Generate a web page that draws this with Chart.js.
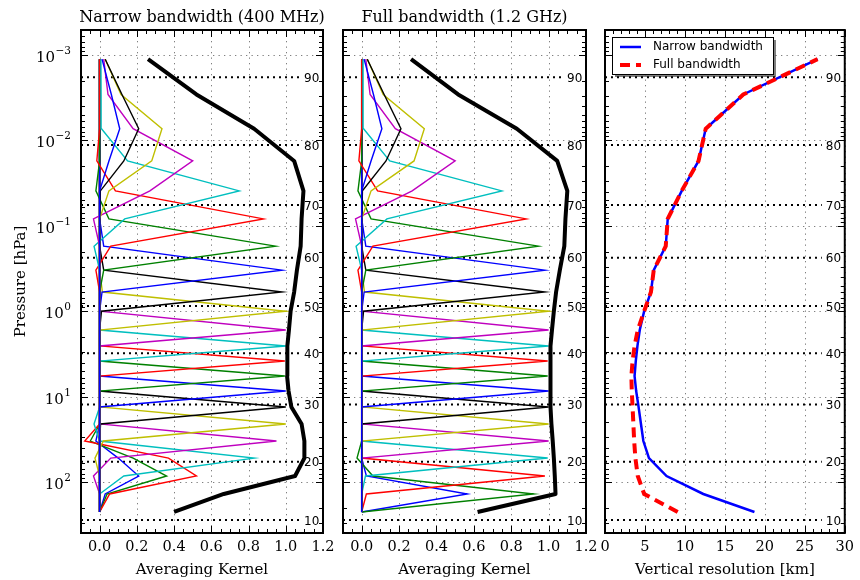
<!DOCTYPE html>
<html>
<head>
<meta charset="utf-8">
<script src="https://cdn.jsdelivr.net/npm/chart.js@4.4.1/dist/chart.umd.min.js"></script>
<style>
  body { margin: 0; background: #fff; }
  #wrap { position: relative; width: 860px; height: 580px; }
  #wrap canvas { position: absolute; left: 0; top: 0; }
</style>
</head>
<body>
<div id="wrap">
  <canvas id="narrow" width="860" height="580"></canvas>
  <canvas id="full" width="860" height="580"></canvas>
  <canvas id="res" width="860" height="580"></canvas>
</div>
<script>
// retrieval levels, bottom -> top [hPa]
const pressure = [224, 138, 85, 52.4, 33.1, 20.9, 13.2, 8.6, 5.74, 3.83, 2.55, 1.66,
                  1.0, 0.596, 0.33, 0.173, 0.083, 0.039, 0.0174, 0.0073, 0.0029, 0.00112];

// averaging kernels of the 7 lowest levels, narrow band (one row per kernel, values per level)
const akNarrowLow = [
  [0, 0.03, 0.21, 0.10, -0.02, 0, 0, 0, 0, 0, 0, 0, 0, 0, 0, 0, 0, 0, 0, 0, 0, 0],
  [0, 0.04, 0.36, 0.18, -0.05, 0, 0, 0, 0, 0, 0, 0, 0, 0, 0, 0, 0, 0, 0, 0, 0, 0],
  [0, 0.054, 0.52, 0.37, -0.08, 0, 0, 0, 0, 0, 0, 0, 0, 0, 0, 0, 0, 0, 0, 0, 0, 0],
  [0, 0, 0.13, 0.83, 0, -0.03, 0, 0, 0, 0, 0, 0, 0, 0, 0, 0, 0, 0, 0, 0, 0, 0],
  [0, 0, -0.033, 0.06, 0.95, 0, 0, 0, 0, 0, 0, 0, 0, 0, 0, 0, 0, 0, 0, 0, 0, 0],
  [0, 0, 0, -0.025, 0.02, 1.0, 0, 0, 0, 0, 0, 0, 0, 0, 0, 0, 0, 0, 0, 0, 0, 0],
  [0, 0, 0, 0, 0, 0.005, 1.0, 0, 0, 0, 0, 0, 0, 0, 0, 0, 0, 0, 0, 0, 0, 0]
];
// same for full band
const akFullLow = [
  [0, 0.565, 0.025, 0, 0, 0, 0, 0, 0, 0, 0, 0, 0, 0, 0, 0, 0, 0, 0, 0, 0, 0],
  [0, 0.92, 0.06, -0.025, 0, 0, 0, 0, 0, 0, 0, 0, 0, 0, 0, 0, 0, 0, 0, 0, 0, 0],
  [0, 0.025, 0.98, 0, 0, 0, 0, 0, 0, 0, 0, 0, 0, 0, 0, 0, 0, 0, 0, 0, 0, 0],
  [0, 0, 0.02, 0.995, 0, 0, 0, 0, 0, 0, 0, 0, 0, 0, 0, 0, 0, 0, 0, 0, 0, 0],
  [0, 0, 0, 0, 1.0, 0, 0, 0, 0, 0, 0, 0, 0, 0, 0, 0, 0, 0, 0, 0, 0, 0],
  [0, 0, 0, 0, 0, 1.0, 0, 0, 0, 0, 0, 0, 0, 0, 0, 0, 0, 0, 0, 0, 0, 0],
  [0, 0, 0, 0, 0, 0, 1.0, 0, 0, 0, 0, 0, 0, 0, 0, 0, 0, 0, 0, 0, 0, 0]
];
// kernels 7..21, the same in both bands
const akUpper = [
  [0, 0, 0, 0, 0, 0, 0, 1.0, 0, 0, 0, 0, 0, 0, 0, 0, 0, 0, 0, 0, 0, 0],
  [0, 0, 0, 0, 0, 0, 0, 0, 0.995, 0, 0, 0, 0, 0, 0, 0, 0, 0, 0, 0, 0, 0],
  [0, 0, 0, 0, 0, 0, 0, 0, 0, 0.995, 0, 0, 0, 0, 0, 0, 0, 0, 0, 0, 0, 0],
  [0, 0, 0, 0, 0, 0, 0, 0, 0, 0, 1.0, 0, 0, 0, 0, 0, 0, 0, 0, 0, 0, 0],
  [0, 0, 0, 0, 0, 0, 0, 0, 0, 0, 0, 1.0, 0, 0, 0, 0, 0, 0, 0, 0, 0, 0],
  [0, 0, 0, 0, 0, 0, 0, 0, 0, 0, 0, 0, 1.0, 0.015, 0, 0, 0, 0, 0, 0, 0, 0],
  [0, 0, 0, 0, 0, 0, 0, 0, 0, 0, 0, 0, 0.01, 0.98, 0.022, 0, 0, 0, 0, 0, 0, 0],
  [0, 0, 0, 0, 0, 0, 0, 0, 0, 0, 0, 0, 0, 0.013, 0.98, 0.022, 0, 0, 0, 0, 0, 0],
  [0, 0, 0, 0, 0, 0, 0, 0, 0, 0, 0, 0, 0, 0, 0.022, 0.945, 0.05, -0.02, 0, 0, 0, 0],
  [0, 0, 0, 0, 0, 0, 0, 0, 0, 0, 0, 0, 0, 0, -0.02, 0.06, 0.88, 0.085, -0.015, 0, 0, 0],
  [0, 0, 0, 0, 0, 0, 0, 0, 0, 0, 0, 0, 0, 0, 0, -0.03, 0.135, 0.75, 0.15, 0.01, 0.008, 0.007],
  [0, 0, 0, 0, 0, 0, 0, 0, 0, 0, 0, 0, 0, 0, 0, 0, -0.033, 0.27, 0.50, 0.18, 0.045, 0.022],
  [0, 0, 0, 0, 0, 0, 0, 0, 0, 0, 0, 0, 0, 0, 0, 0, 0, 0.05, 0.28, 0.335, 0.115, 0.03],
  [0, 0, 0, 0, 0, 0, 0, 0, 0, 0, 0, 0, 0, 0, 0, 0, 0, 0.004, 0.13, 0.21, 0.12, 0.03],
  [0, 0, 0, 0, 0, 0, 0, 0, 0, 0, 0, 0, 0, 0, 0, 0, 0, 0, 0.05, 0.108, 0.063, 0.013]
];

// measurement response (thick black line)
const sumNarrow = [0.40, 0.667, 1.05, 1.10, 1.10, 1.085, 1.03, 1.015, 1.007, 1.007, 1.01,
                   1.017, 1.026, 1.045, 1.06, 1.08, 1.085, 1.095, 1.045, 0.83, 0.52, 0.26];
const sumFull = [0.62, 1.037, 1.033, 1.028, 1.022, 1.015, 1.01, 1.01, 1.01, 1.01, 1.01,
                 1.018, 1.028, 1.04, 1.06, 1.084, 1.09, 1.10, 1.046, 0.83, 0.516, 0.264];

// vertical resolution [km]
const resNarrow = [18.7, 12.3, 7.7, 5.5, 4.8, 4.5, 4.2, 3.9, 3.7, 3.85, 4.06, 4.35,
                   4.9, 5.75, 6.1, 7.6, 7.85, 9.6, 11.7, 12.6, 17.3, 26.6];
const resFull = [9.1, 4.9, 4.1, 3.8, 3.65, 3.55, 3.45, 3.35, 3.3, 3.45, 3.7, 4.1,
                 4.9, 5.75, 6.1, 7.6, 7.85, 9.6, 11.7, 12.6, 17.3, 26.6];

// altitude markers
const altKm = [10, 20, 30, 40, 50, 60, 70, 80, 90];
const altP = [279, 57.8, 12.4, 3.11, 0.869, 0.236, 0.057, 0.0113, 0.00182];

const decades = [1e-3, 1e-2, 1e-1, 1, 10, 100];
const decadeExp = ['\u22123', '\u22122', '\u22121', '0', '1', '2'];
const akTicks = [0, 0.2, 0.4, 0.6, 0.8, 1.0, 1.2];
const resTicks = [0, 5, 10, 15, 20, 25, 30];
const yMin = 5.1e-4, yMax = 395;

const colors = ['#0000ff', '#008000', '#ff0000', '#00bfbf', '#bf00bf', '#bfbf00', '#000000'];

Chart.defaults.font.family = '"DejaVu Serif", serif';
Chart.defaults.color = '#000';

function pts(vals) {
  return vals.map((v, j) => ({x: v, y: pressure[j]}));
}

function minorTicks(lo, hi, step, majors) {
  const out = [];
  for (let v = lo; v <= hi + 1e-9; v += step) {
    const r = Math.round(v * 1000) / 1000;
    if (!majors.some(m => Math.abs(m - r) < 1e-6)) out.push(r);
  }
  return out;
}

const yMinor = [];
for (let e = -4; e <= 2; e++) {
  for (let m = 2; m <= 9; m++) {
    const v = m * Math.pow(10, e);
    if (v > yMin && v < yMax) yMinor.push(v);
  }
}

function seg(ctx, x1, y1, x2, y2) {
  ctx.beginPath();
  ctx.moveTo(x1, y1);
  ctx.lineTo(x2, y2);
  ctx.stroke();
}

function makeDeco(cfg) {
  return {
    id: 'deco',
    beforeDatasetsDraw(chart) {
      const {ctx, chartArea: a} = chart;
      const xs = chart.scales.x, ys = chart.scales.y;
      ctx.save();
      // dotted grid
      ctx.lineWidth = 1;
      ctx.strokeStyle = 'rgba(0,0,0,0.5)';
      ctx.setLineDash([1.3, 4.2]);
      cfg.xMajor.forEach(v => {
        const px = Math.round(xs.getPixelForValue(v)) + 0.5;
        seg(ctx, px, a.top, px, a.bottom);
      });
      decades.forEach(v => {
        const py = Math.round(ys.getPixelForValue(v)) + 0.5;
        seg(ctx, a.left, py, a.right, py);
      });
      // altitude lines
      ctx.strokeStyle = '#000';
      ctx.lineWidth = 2;
      ctx.setLineDash([2, 4]);
      ctx.fillStyle = '#000';
      ctx.font = '12px "DejaVu Sans"';
      ctx.textAlign = 'left';
      ctx.textBaseline = 'middle';
      altP.forEach((p, i) => {
        const py = ys.getPixelForValue(p);
        seg(ctx, a.left, py, a.right - 23, py);
        ctx.fillText(String(altKm[i]), a.right - 19, py + 1.5);
      });
      ctx.restore();
    },
    afterDatasetsDraw(chart) {
      const {ctx, chartArea: a} = chart;
      const xs = chart.scales.x, ys = chart.scales.y;
      ctx.save();
      ctx.setLineDash([]);
      ctx.strokeStyle = '#000';
      ctx.lineWidth = 1;
      // inward ticks, all four sides
      cfg.xMajor.forEach(v => {
        const px = Math.round(xs.getPixelForValue(v)) + 0.5;
        seg(ctx, px, a.bottom, px, a.bottom - 7);
        seg(ctx, px, a.top, px, a.top + 7);
      });
      cfg.xMinor.forEach(v => {
        const px = Math.round(xs.getPixelForValue(v)) + 0.5;
        seg(ctx, px, a.bottom, px, a.bottom - 4);
        seg(ctx, px, a.top, px, a.top + 4);
      });
      decades.forEach(v => {
        const py = Math.round(ys.getPixelForValue(v)) + 0.5;
        seg(ctx, a.left, py, a.left + 7, py);
        seg(ctx, a.right, py, a.right - 7, py);
      });
      yMinor.forEach(v => {
        const py = Math.round(ys.getPixelForValue(v)) + 0.5;
        seg(ctx, a.left, py, a.left + 4, py);
        seg(ctx, a.right, py, a.right - 4, py);
      });
      ctx.lineWidth = 2;
      ctx.strokeRect(a.left, a.top, a.right - a.left, a.bottom - a.top);

      ctx.fillStyle = '#000';
      if (cfg.title) {
        ctx.font = '16px "DejaVu Serif"';
        ctx.textAlign = 'center';
        ctx.textBaseline = 'alphabetic';
        ctx.fillText(cfg.title, (a.left + a.right) / 2, 21.5);
      }
      if (cfg.yLabels) {
        ctx.textAlign = 'right';
        ctx.textBaseline = 'alphabetic';
        decades.forEach((v, i) => {
          const py = ys.getPixelForValue(v);
          ctx.font = '10.5px "DejaVu Serif"';
          const we = ctx.measureText(decadeExp[i]).width;
          ctx.fillText(decadeExp[i], a.left - 10, py - 1);
          ctx.font = '15px "DejaVu Serif"';
          ctx.fillText('10', a.left - 10 - we - 0.5, py + 7);
        });
      }
      if (cfg.legend) {
        const lx = a.left + 7, ly = a.top + 7, lw = 161, lh = 37;
        ctx.fillStyle = 'rgba(0,0,0,0.5)';
        ctx.fillRect(lx + 3, ly + 3, lw, lh);
        ctx.fillStyle = '#fff';
        ctx.fillRect(lx, ly, lw, lh);
        ctx.lineWidth = 1;
        ctx.strokeStyle = '#000';
        ctx.strokeRect(lx + 0.5, ly + 0.5, lw, lh);
        ctx.font = '12px "DejaVu Sans"';
        ctx.textAlign = 'left';
        ctx.textBaseline = 'middle';
        cfg.legend.forEach((item, i) => {
          const yy = ly + 10 + i * 18;
          const ds = chart.data.datasets.find(d => d.label === item);
          ctx.strokeStyle = ds.borderColor;
          ctx.lineWidth = ds.borderWidth;
          ctx.setLineDash(ds.borderDash || []);
          seg(ctx, lx + 8, yy, lx + 29, yy);
          ctx.setLineDash([]);
          ctx.fillStyle = '#000';
          ctx.fillText(item, lx + 41, yy);
        });
      }
      ctx.restore();
    }
  };
}

function panel(id, cfg) {
  return new Chart(document.getElementById(id), {
    type: 'scatter',
    data: {datasets: cfg.datasets},
    options: {
      responsive: false,
      animation: false,
      events: [],
      layout: {padding: {left: 0, right: 860 - cfg.right, top: 30, bottom: 0}},
      plugins: {legend: {display: false}, tooltip: {enabled: false}},
      scales: {
        x: {
          type: 'linear',
          min: cfg.xMin,
          max: cfg.xMax,
          afterBuildTicks: s => { s.ticks = cfg.xMajor.map(v => ({value: v})); },
          ticks: {
            callback: v => cfg.fmt(v),
            font: {size: 14.5},
            padding: 6,
            maxRotation: 0,
            autoSkip: false
          },
          grid: {display: false, drawTicks: false},
          border: {display: false},
          title: {display: true, text: cfg.xTitle, font: {size: 15}, padding: {top: 0, bottom: 1}},
          afterFit: s => { s.height = 47; }
        },
        y: {
          type: 'logarithmic',
          reverse: true,
          min: yMin,
          max: yMax,
          afterBuildTicks: s => { s.ticks = decades.map(v => ({value: v})); },
          ticks: {display: false},
          grid: {display: false, drawTicks: false},
          border: {display: false},
          title: {display: !!cfg.yTitle, text: cfg.yTitle || '', font: {size: 15}, padding: {top: 12, bottom: 0}},
          afterFit: s => { s.width = cfg.left; }
        }
      }
    },
    plugins: [makeDeco(cfg)]
  });
}

function kernelSets(rows, sum) {
  const ds = rows.map((r, i) => ({
    data: pts(r),
    showLine: true,
    borderColor: colors[i % 7],
    borderWidth: 1.4,
    pointRadius: 0,
    tension: 0
  }));
  ds.push({data: pts(sum), showLine: true, borderColor: '#000', borderWidth: 4,
           pointRadius: 0, tension: 0, borderJoinStyle: 'round', borderCapStyle: 'butt'});
  return ds.reverse();   // last plotted ends up on top
}

const akMinor = minorTicks(-0.1, 1.2, 0.05, akTicks);
const resMinor = minorTicks(0, 30, 1, resTicks);

panel('narrow', {
  left: 81, right: 323, xMin: -0.1, xMax: 1.2,
  xMajor: akTicks, xMinor: akMinor, fmt: v => v.toFixed(1),
  xTitle: 'Averaging Kernel', yTitle: 'Pressure [hPa]', yLabels: true,
  title: 'Narrow bandwidth (400 MHz)',
  datasets: kernelSets(akNarrowLow.concat(akUpper), sumNarrow)
});

panel('full', {
  left: 343, right: 586, xMin: -0.1, xMax: 1.2,
  xMajor: akTicks, xMinor: akMinor, fmt: v => v.toFixed(1),
  xTitle: 'Averaging Kernel',
  title: 'Full bandwidth (1.2 GHz)',
  datasets: kernelSets(akFullLow.concat(akUpper), sumFull)
});

panel('res', {
  left: 605, right: 848, xMin: 0, xMax: 30,
  xMajor: resTicks, xMinor: resMinor, fmt: v => String(v),
  xTitle: 'Vertical resolution [km]',
  legend: ['Narrow bandwidth', 'Full bandwidth'],
  datasets: [
    {label: 'Full bandwidth', data: pts(resFull), showLine: true, borderColor: '#ff0000',
     borderWidth: 4, borderDash: [10, 6], pointRadius: 0, tension: 0},
    {label: 'Narrow bandwidth', data: pts(resNarrow), showLine: true, borderColor: '#0000ff',
     borderWidth: 2.5, pointRadius: 0, tension: 0}
  ]
});
</script>
</body>
</html>
